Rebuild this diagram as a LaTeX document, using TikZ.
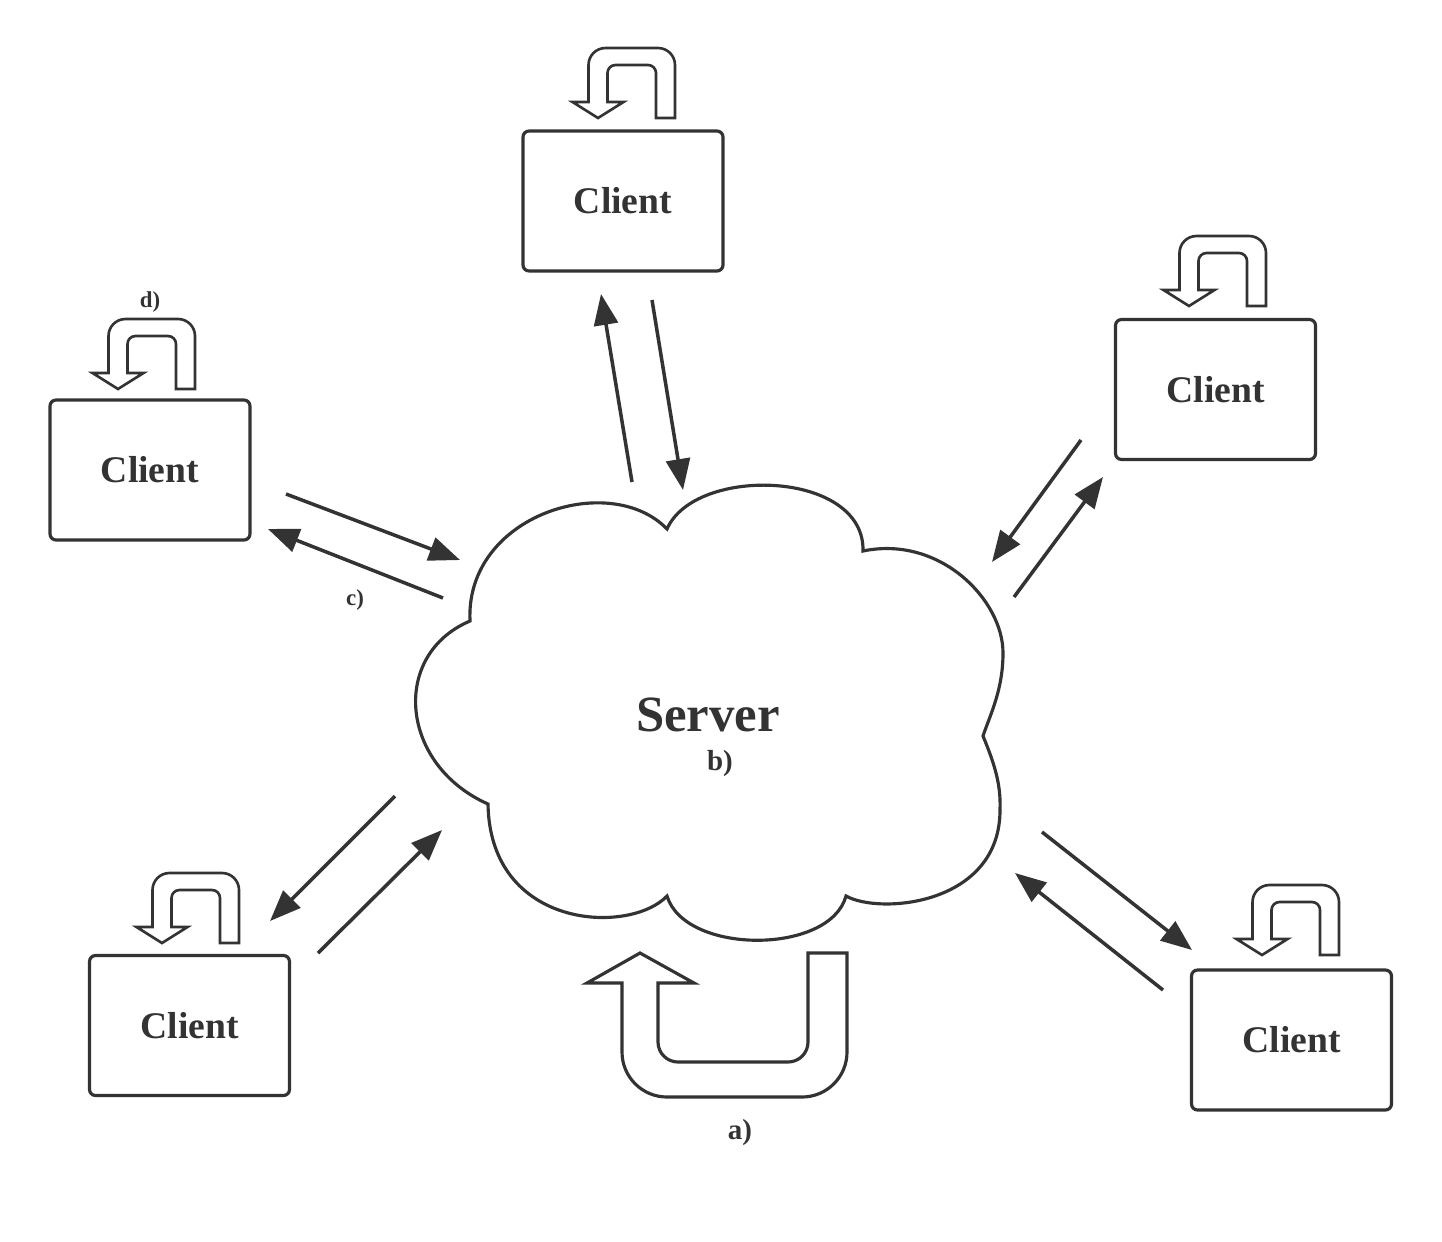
\documentclass[tikz,border=0pt]{standalone}
\usepackage{fontspec}
\setmainfont{Liberation Serif}
\usetikzlibrary{arrows.meta}
\definecolor{ink}{HTML}{333333}
\tikzset{
  client/.style={draw=ink, line width=1.8pt, rounded corners=0.12cm, minimum width=4cm,
    minimum height=2.8cm, text=ink, font=\bfseries\fontsize{21.4}{24}\selectfont},
  link/.style={draw=ink, line width=2pt, -{Triangle[length=0.62cm,width=0.48cm]}},
  tag/.style={text=ink, inner sep=0pt, font=\bfseries\fontsize{16.5}{18}\selectfont},
  smalltag/.style={text=ink, inner sep=0pt, font=\bfseries\fontsize{13}{15}\selectfont},
  loopback/.pic={
    \draw[ink, line width=1.5pt, line join=miter] (0,0) -- (-25.5,16) -- (-9.5,16) -- (-9.5,53)
      arc[start angle=180, end angle=90, radius=17] -- (60,70)
      arc[start angle=90, end angle=0, radius=17] -- (77,0) -- (58,0) -- (58,45)
      arc[start angle=0, end angle=90, radius=8] -- (17.5,53)
      arc[start angle=90, end angle=180, radius=8] -- (9.5,16) -- (25.5,16) -- cycle;
  }
}
\begin{document}
\begin{tikzpicture}[x=0.02cm, y=0.02cm]
\useasboundingbox (0,0) rectangle (1442,-1241);
% server cloud
\draw [ink, line width=1.8pt] (470,-621)
  .. controls (465,-515) and (610,-470) .. (667,-529)
  .. controls (695,-465) and (865,-470) .. (863,-551)
  .. controls (940,-535) and (1003,-600) .. (1003,-653)
  .. controls (1003,-690) and (990,-715) .. (983,-736)
  .. controls (995,-765) and (1001,-785) .. (1000,-810)
  .. controls (1000,-905) and (880,-915) .. (846,-896)
  .. controls (830,-955) and (685,-955) .. (667,-896)
  .. controls (630,-935) and (490,-930) .. (488,-804)
  .. controls (400,-765) and (390,-655) .. (470,-621) -- cycle;
\node (server) [text=ink, inner sep=0pt, font=\bfseries\fontsize{28.9}{32}\selectfont] at (708,-715) {Server};
\node (b) [tag] at (720,-764) {b)};
% clients
\node (cT) [client] at (623,-201) {Client};
\node (cL) [client] at (150,-470) {Client};
\node (cR) [client] at (1215.5,-389.5) {Client};
\node (cBL) [client] at (189.5,-1025.5) {Client};
\node (cBR) [client] at (1291.5,-1040) {Client};
% local loops
\pic at (598,-118) {loopback};
\pic at (118,-389) {loopback};
\pic at (1189,-306) {loopback};
\pic at (162,-943) {loopback};
\pic at (1262,-955) {loopback};
\node (d) [smalltag] at (150,-302) {d)};
% messages
\coordinate (upT1) at (652,-300); \coordinate (upT2) at (683,-490);
\coordinate (dnT1) at (632,-482); \coordinate (dnT2) at (601,-294);
\coordinate (upL1) at (286,-494); \coordinate (upL2) at (460,-560);
\coordinate (dnL1) at (443,-598); \coordinate (dnL2) at (268,-529);
\coordinate (upR1) at (1081,-440); \coordinate (upR2) at (992,-562);
\coordinate (dnR1) at (1014,-597); \coordinate (dnR2) at (1103,-477);
\coordinate (upBL1) at (318,-953); \coordinate (upBL2) at (442,-830);
\coordinate (dnBL1) at (395,-796); \coordinate (dnBL2) at (270,-921);
\coordinate (upBR1) at (1163,-990); \coordinate (upBR2) at (1015,-873);
\coordinate (dnBR1) at (1042,-832); \coordinate (dnBR2) at (1192,-950);
\foreach \s in {T,L,R,BL,BR}{
  \draw [link] (up\s1) -- (up\s2);
  \draw [link] (dn\s1) -- (dn\s2);
}
\node (c) [smalltag] at (355,-600) {c)};
% server loop
\draw [ink, line width=1.8pt, line join=miter] (640,-953) -- (694,-983) -- (658,-983) -- (658,-1042)
  arc[start angle=180, end angle=270, radius=20] -- (788,-1062)
  arc[start angle=270, end angle=360, radius=20] -- (808,-953) -- (847,-953) -- (847,-1052)
  arc[start angle=0, end angle=-90, radius=45] -- (667,-1097)
  arc[start angle=270, end angle=180, radius=45] -- (622,-983) -- (587,-983) -- cycle;
\node (a) [tag] at (740,-1133) {a)};
\end{tikzpicture}
\end{document}
